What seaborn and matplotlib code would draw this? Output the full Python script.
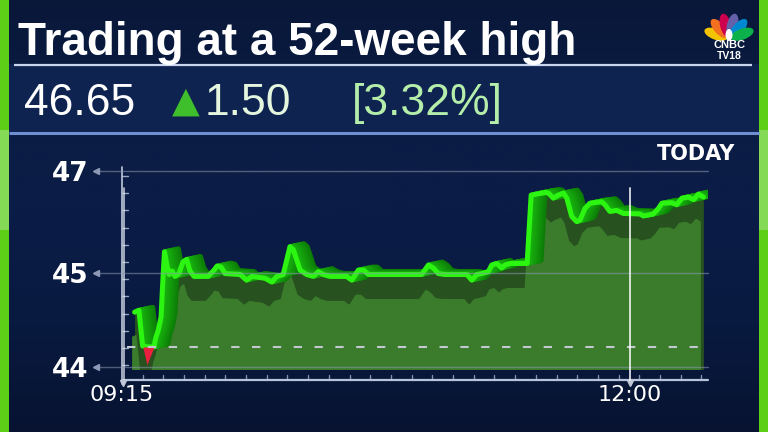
import numpy as np
import matplotlib
matplotlib.use("Agg")
import matplotlib.pyplot as plt
import matplotlib.transforms as mtransforms
from matplotlib import font_manager
from matplotlib.colors import LinearSegmentedColormap, to_rgb
from matplotlib.patches import Rectangle, Ellipse
import seaborn as sns

sns.set_theme(style="dark")
plt.rcParams['lines.scale_dashes'] = False

# ---- values (minutes after 09:15, price) ----
minutes = [4.1, 5.5, 6.7, 8.1, 10.4, 10.9, 11.8, 12.7, 13.2, 13.8,
           14.6, 15.3, 16.3, 17.2, 18.5, 19.8, 21.0, 22.1, 23.4, 28.0,
           29.9, 30.9, 32.2, 33.5, 38.4, 40.5, 42.2, 46.5, 48.7, 50.3,
           52.4, 54.6, 55.7, 57.9, 60.0, 62.2, 63.8, 65.4, 67.6, 73.0,
           74.7, 76.8, 78.5, 80.1, 97.4, 99.6, 101.2, 102.8, 105.0, 112.1,
           113.7, 115.3, 116.9, 119.1, 120.2, 121.8, 123.4, 124.5, 126.1, 131.7,
           133.0, 137.5, 138.6, 140.2, 141.8, 143.5, 144.6, 146.2, 147.8, 148.9,
           150.5, 152.1, 155.9, 157.0, 158.6, 160.8, 163.0, 168.4, 169.5, 172.7,
           174.4, 175.5, 178.7, 180.3, 182.0, 184.1, 185.8, 187.4, 189.0]
prices = [44.58, 44.60, 44.22, 44.02, 44.21, 44.30, 44.39, 44.53, 44.87, 45.41,
          45.15, 44.98, 45.03, 44.96, 44.99, 45.21, 45.26, 45.03, 44.96, 44.96,
          45.05, 45.13, 45.11, 44.99, 44.98, 44.92, 44.96, 44.94, 44.90, 44.96,
          44.98, 45.51, 45.45, 45.05, 44.98, 44.96, 45.02, 44.98, 44.96, 44.96,
          44.92, 45.05, 45.05, 44.98, 44.98, 45.15, 45.09, 44.99, 44.98, 44.98,
          44.92, 44.98, 44.99, 45.02, 45.15, 45.18, 45.09, 45.15, 45.18, 45.18,
          46.52, 46.57, 46.56, 46.46, 46.52, 46.56, 46.46, 46.10, 46.00, 46.03,
          46.26, 46.36, 46.39, 46.33, 46.20, 46.22, 46.16, 46.15, 46.11, 46.15,
          46.26, 46.36, 46.37, 46.33, 46.46, 46.48, 46.43, 46.54, 46.48]
reference_level = 44.21
y_ticks = [44, 45, 47]
x_ticks = [0, 165]
x_tick_labels = ["09:15", "12:00"]

title = "Trading at a 52-week high"
last_price = "46.65"
change = "1.50"
change_pct = "[3.32%]"

NAVY = '#0a1b40'
GREEN_BAR = '#5ccf16'
LINE_GREEN = '#2cf512'


def pick(*names):
    for n in names:
        try:
            font_manager.findfont(font_manager.FontProperties(family=n),
                                  fallback_to_default=False)
            return n
        except ValueError:
            pass
    return 'DejaVu Sans'


arial = pick('Liberation Sans', 'Arimo')

fig = plt.figure(figsize=(7.68, 4.32), dpi=100)
fig.patch.set_facecolor(NAVY)

# --- background canvas in pixel units ---
bg = fig.add_axes([0, 0, 1, 1], zorder=0)
bg.set_xlim(0, 768)
bg.set_ylim(432, 0)
bg.axis('off')
grad = np.linspace(0, 1, 256)[:, None]
cmap = LinearSegmentedColormap.from_list(
    'bg', ['#091839', '#0b1c44', '#0b1d47', '#091a40', '#071331'])
bg.imshow(grad, extent=(0, 768, 432, 0), cmap=cmap, aspect='auto')

# side bars
bg.add_patch(Rectangle((0, 0), 9, 432, color=GREEN_BAR, lw=0))
bg.add_patch(Rectangle((759, 0), 9, 432, color=GREEN_BAR, lw=0))
bg.add_patch(Rectangle((0, 130), 9, 100, color='#84da55', lw=0))
bg.add_patch(Rectangle((759, 130), 9, 100, color='#84da55', lw=0))

# price box
bg.add_patch(Rectangle((9, 64), 750, 69, color='#0e2350', lw=0))
bg.plot([14, 752], [64.5, 64.5], color='#c9d6ee', lw=1.6, solid_capstyle='butt')
bg.plot([9, 759], [132.5, 132.5], color='#6f8fd2', lw=2.2, solid_capstyle='butt')

# peacock logo
cx, cy = 729, 39
feather_cols = ['#f5c400', '#f37021', '#cc004c', '#6460aa', '#0089d0', '#0db14b']
for ang, col in zip(np.linspace(-70, 70, 6), feather_cols):
    a = np.radians(ang)
    dx, dy = np.sin(a), -np.cos(a)
    bg.add_patch(Ellipse((cx + 14 * dx, cy + 14 * dy), 24, 11,
                         angle=np.degrees(np.arctan2(dy, dx)), color=col, lw=0))
bg.add_patch(Ellipse((cx, cy - 4), 7, 12, color='white', lw=0))
fig.text(cx / 768, 1 - 48.5 / 432, "CNBC", color='white', fontsize=8,
         fontweight='heavy', family=arial, ha='center', va='baseline')
fig.text(cx / 768, 1 - 59 / 432, "TV18", color='white', fontsize=7.5,
         fontweight='bold', family=arial, ha='center', va='baseline')

# header texts
fig.text(18 / 768, 1 - 55 / 432, title, color='white', fontsize=33,
         fontweight='bold', family=arial, va='baseline')
fig.text(24 / 768, 1 - 115 / 432, last_price, color='white', fontsize=32,
         family=arial, va='baseline')
fig.text(186 / 768, 1 - 112 / 432, "\u25B2", color='#3fbf2c', fontsize=26,
         family='DejaVu Sans', va='baseline', ha='center')
fig.text(205 / 768, 1 - 115 / 432, change, color='#e4f6de', fontsize=32,
         family=arial, va='baseline')
fig.text(352 / 768, 1 - 115 / 432, change_pct, color='#b4eeaa', fontsize=32,
         family=arial, va='baseline')
fig.text(696 / 768, 1 - 160 / 432, "TODAY", color='white', fontsize=15,
         family='DejaVu Sans', fontweight='bold', ha='center', va='baseline')

# decorative ticks along the axes
for yy in np.arange(176, 366, 17.2):
    bg.plot([122, 128], [yy, yy], color='#9aa6c0', lw=1)
for xx in np.arange(142.6, 702, 20.7):
    bg.plot([xx, xx], [375, 380], color='#8090b0', lw=1)
bg.plot([122, 708], [380, 380], color='#b8c4dc', lw=1.6)
bg.plot([121.7, 121.7], [167, 384], color='#c0c8da', lw=1.2)
bg.plot([124, 124], [188, 380], color='#e6ebf5', lw=1.2, alpha=0.8)
bg.plot([123, 629.5], [383, 383], ls='none', marker='v', ms=4, color='#c0c8d8')

# --- chart axes ---
L, R, B, T = 122, 708, 369.3, 165
ax = fig.add_axes([L / 768, 1 - B / 432, (R - L) / 768, (B - T) / 432], zorder=1)
ax.set_facecolor('none')

BREAK = 45.0
STRETCH = 94 / 51


def fwd(v):
    v = np.asarray(v, float)
    return np.where(v >= BREAK, v, BREAK - (BREAK - v) * STRETCH)


def inv(u):
    u = np.asarray(u, float)
    return np.where(u >= BREAK, u, BREAK - (BREAK - u) / STRETCH)


ax.set_yscale('function', functions=(fwd, inv))
ax.set_xlim(0, 190.5)
ax.set_ylim(43.972, 47.11)

t = np.array(minutes)
p = np.array(prices)
shown = np.maximum(p, reference_level)
floor = 43.5

# area under the line: dark top band, front face shifted down
ax.fill_between(t, shown, floor, color='#27511f', lw=0, zorder=1)
front = mtransforms.offset_copy(ax.transData, fig=fig, x=-3, y=-24, units='dots')
ax.fill_between(t, shown, floor, color='#3a7c2c', lw=0, zorder=2, transform=front)

# extruded ribbon behind the bright line
n = 12
c0, c1 = np.array(to_rgb('#17b40e')), np.array(to_rgb('#0c7c07'))
for k in range(n, 0, -1):
    f = k / n
    tr = mtransforms.offset_copy(ax.transData, fig=fig, x=14 * f, y=3 * f, units='dots')
    ax.plot(t, shown, color=c0 + (c1 - c0) * f, lw=3.5, transform=tr,
            zorder=4, solid_joinstyle='round')
ax.plot(t, shown, color=LINE_GREEN, lw=3.6, zorder=5, solid_joinstyle='round')

# dip below the reference level in red
ax.fill_between(t, p, reference_level, where=p <= reference_level, interpolate=True,
                color='#ea1f3d', lw=0, zorder=5.5)

# gridlines, reference line and the 12:00 marker
for yv in y_ticks:
    ax.axhline(yv, xmin=-0.046, xmax=1, color='#8d99b4', lw=1, alpha=0.55,
               zorder=6, clip_on=False)
    ax.plot(-0.044, yv, marker='<', ms=4, color='#8d99b4',
            transform=ax.get_yaxis_transform(), clip_on=False)
ax.axhline(reference_level, xmin=0.008, xmax=1, color='#c2c7d0', lw=1.5,
           dashes=(6, 9), zorder=6)
ax.axvline(165, ymin=-0.052, ymax=0.887, color='white', lw=1.3, alpha=0.85,
           zorder=7, clip_on=False)

ax.set_yticks(y_ticks)
ax.set_yticklabels([str(v) for v in y_ticks])
ax.set_xticks(x_ticks)
ax.set_xticklabels(x_tick_labels)
ax.tick_params(axis='y', length=0, pad=24, labelsize=19, labelcolor='white')
ax.tick_params(axis='x', length=0, pad=11, labelsize=16, labelcolor='white')
for lab in ax.get_yticklabels():
    lab.set_fontweight('bold')
for s in ax.spines.values():
    s.set_visible(False)
ax.grid(False)

fig.savefig('out.png', dpi=100, facecolor=fig.get_facecolor())
